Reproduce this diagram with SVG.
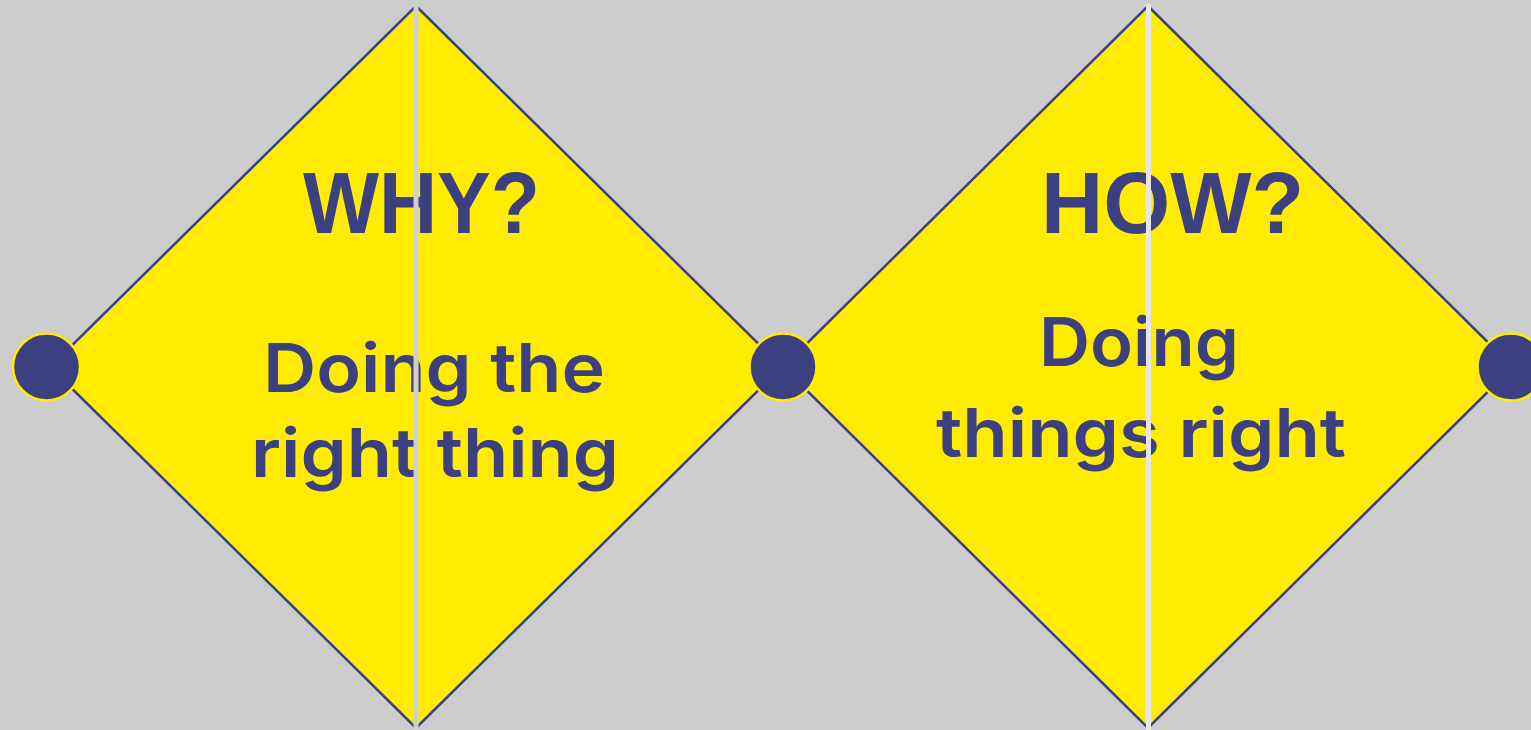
<svg xmlns="http://www.w3.org/2000/svg" width="1531" height="730" viewBox="0 0 1531 730">
<style>
.diamond{fill:#ffec00;stroke:#3c4080;stroke-width:2.5}
.dot{fill:#3c4080;stroke:#ffec00;stroke-width:2.5}
.head{font-family:"Liberation Sans",Arial,sans-serif;font-weight:700;font-size:88px;fill:#3c4080}
.sub{font-family:Inter,"Liberation Sans",sans-serif;font-weight:600;font-size:67px;fill:#3c4080}
</style>
<rect width="1531" height="730" fill="#cccccc"/>
<g id="why">
<polygon class="diamond" points="416,6 782,367 416,728 50,367"/>
<text class="head" x="303" y="233" textLength="237" lengthAdjust="spacingAndGlyphs">WHY?</text>
<text class="sub" x="263" y="392" textLength="342" lengthAdjust="spacingAndGlyphs">Doing the</text>
<text class="sub" x="251" y="477" textLength="368" lengthAdjust="spacingAndGlyphs">right thing</text>
<rect x="413.5" y="4" width="5" height="726" fill="#d0d0d0"/>
</g>
<g id="how">
<polygon class="diamond" points="1148,6 1513,367 1148,728 783,367"/>
<text class="head" x="1041" y="233" textLength="263" lengthAdjust="spacingAndGlyphs">HOW?</text>
<text class="sub" x="1039" y="366" textLength="200" lengthAdjust="spacingAndGlyphs">Doing</text>
<text class="sub" x="936" y="457" textLength="410" lengthAdjust="spacingAndGlyphs">things right</text>
<rect x="1146" y="4" width="5" height="726" fill="#e6e6e6"/>
</g>
<g id="connectors">
<circle id="dot-left" class="dot" cx="46.5" cy="367" r="33.5"/>
<circle id="dot-mid" class="dot" cx="783" cy="367" r="33.5"/>
<circle id="dot-right" class="dot" cx="1511" cy="367" r="33.5"/>
</g>
</svg>
